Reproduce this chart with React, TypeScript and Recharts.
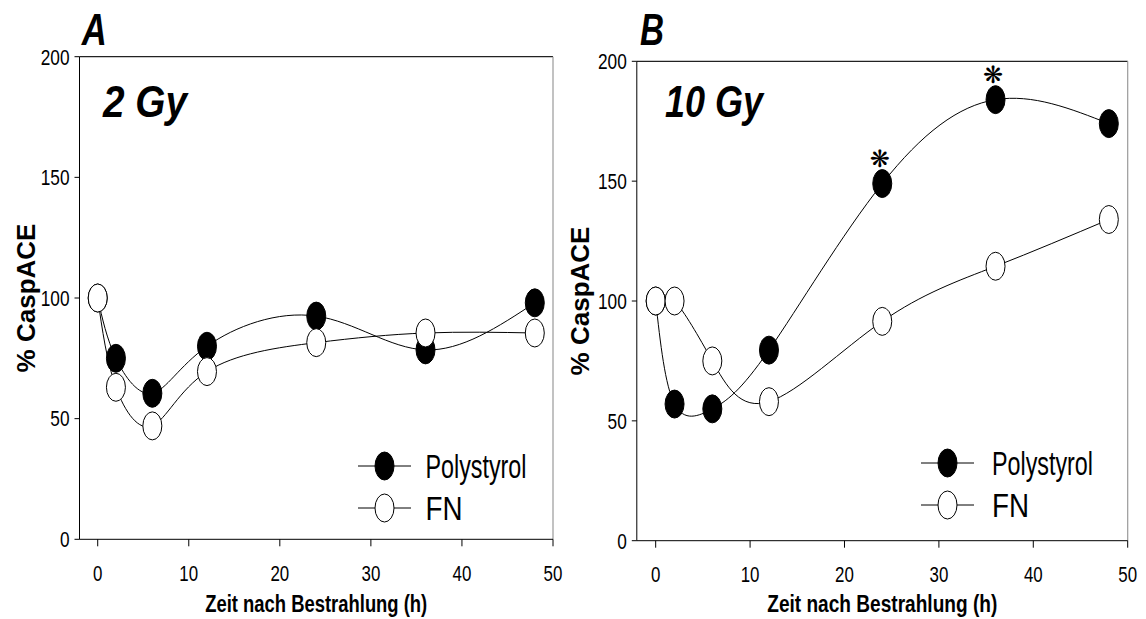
import { LineChart, Line, XAxis, YAxis, ReferenceLine, LabelList, Legend } from 'recharts';

const hours = [0, 2, 6, 12, 24, 36, 48];
const polyA = [100, 75, 60.5, 80, 92.5, 78.5, 98];
const fnA = [100, 63, 47, 69.5, 81.5, 85.5, 85.5];
const polyB = [100, 57, 55, 79.5, 149, 184, 174];
const fnB = [100, 100, 75, 58, 91.5, 114.5, 134];
const starsB = ['', '', '', '', '*', '*', ''];
const starsA = ['', '', '', '', '', '', ''];
const xTicks = [0, 10, 20, 30, 40, 50];
const yTicks = [0, 50, 100, 150, 200];
const seriesNames = ['Polystyrol', 'FN'];

const FONT = 'Liberation Sans, Arial, sans-serif';

function XTick({ x, y, payload }: any) {
  const s = String(payload.value);
  return (
    <text x={x} y={y + 15.5} textAnchor="middle" fontFamily={FONT} fontSize={22} fill="#000"
      textLength={s.length * 9.4} lengthAdjust="spacingAndGlyphs">
      {s}
    </text>
  );
}

function YTick({ x, y, payload }: any) {
  const s = String(payload.value);
  return (
    <text x={x} y={y + 7.8} textAnchor="end" fontFamily={FONT} fontSize={22} fill="#000"
      textLength={s.length * 9.6} lengthAdjust="spacingAndGlyphs">
      {s}
    </text>
  );
}

const ellipseDot = (fill: string) => (props: any) => {
  const { cx, cy, index } = props;
  if (cx == null || cy == null) return <g key={index} />;
  return <ellipse key={index} cx={cx} cy={cy} rx={9.5} ry={14} fill={fill} stroke="#000" strokeWidth={1} />;
};

function StarLabel(props: any) {
  const { x, y, value } = props;
  if (!value) return null;
  return (
    <text x={x - 2.5} y={y - 17} textAnchor="middle" fontFamily="DejaVu Sans" fontSize={24} fill="#000">
      ❋
    </text>
  );
}

function LegendBox({ textX }: { textX: number }) {
  const rows = [
    { name: seriesNames[0], fill: '#000', cy: 26, base: 38, w: 101 },
    { name: seriesNames[1], fill: '#fff', cy: 68, base: 80, w: 37 },
  ];
  return (
    <svg width={220} height={110} style={{ overflow: 'visible' }}>
      {rows.map((r) => (
        <g key={r.name}>
          <line x1={8} x2={61} y1={r.cy} y2={r.cy} stroke="#000" strokeWidth={1} />
          <ellipse cx={34.5} cy={r.cy} rx={9.5} ry={14} fill={r.fill} stroke="#000" />
          <text x={textX} y={r.base} fontFamily={FONT} fontSize={34} fill="#000"
            textLength={r.w} lengthAdjust="spacingAndGlyphs">
            {r.name}
          </text>
        </g>
      ))}
    </svg>
  );
}

interface PanelProps {
  width: number;
  poly: number[];
  fn: number[];
  stars: string[];
  margin: { top: number; right: number; bottom: number; left: number };
  yLabelX: number;
  xLabelW: number;
  legendPos: { left: number; top: number };
  legendTextX: number;
}

function Panel({ width, poly, fn, stars, margin, yLabelX, xLabelW, legendPos, legendTextX }: PanelProps) {
  const data = hours.map((h, i) => ({ h, poly: poly[i], fn: fn[i], star: stars[i] }));
  return (
    <LineChart width={width} height={619} data={data} margin={margin}>
      <XAxis
        type="number"
        dataKey="h"
        domain={[-2, 50]}
        ticks={xTicks}
        allowDataOverflow
        height={40}
        axisLine={{ stroke: '#000' }}
        tickLine={{ stroke: '#000' }}
        tickSize={7}
        tickMargin={19}
        tick={<XTick />}
        label={{
          content: (p: any) => {
            const vb = p.viewBox;
            return (
              <text x={vb.x + vb.width / 2} y={612} textAnchor="middle" fontFamily={FONT} fontWeight="bold"
                fontSize={23} fill="#000" textLength={xLabelW} lengthAdjust="spacingAndGlyphs">
                Zeit nach Bestrahlung (h)
              </text>
            );
          },
        }}
      />
      <YAxis
        type="number"
        domain={[0, 200]}
        ticks={yTicks}
        width={60}
        axisLine={{ stroke: '#000' }}
        tickLine={{ stroke: '#000' }}
        tickSize={5}
        tickMargin={5}
        tick={<YTick />}
        label={{
          content: (p: any) => {
            const vb = p.viewBox;
            const cy = vb.y + vb.height / 2;
            return (
              <text x={yLabelX} y={cy} transform={`rotate(-90 ${yLabelX} ${cy})`} textAnchor="middle"
                fontFamily={FONT} fontWeight="bold" fontSize={26} fill="#000">
                % CaspACE
              </text>
            );
          },
        }}
      />
      <ReferenceLine y={200} stroke="#222" strokeWidth={1.2} />
      <ReferenceLine x={50} stroke="#999" strokeWidth={1.2} />
      <Legend
        layout="horizontal"
        verticalAlign="middle"
        align="center"
        wrapperStyle={{ left: legendPos.left, top: legendPos.top, width: 220, height: 110 }}
        content={() => <LegendBox textX={legendTextX} />}
      />
      <Line
        type="natural"
        dataKey="poly"
        name={seriesNames[0]}
        stroke="#000"
        strokeWidth={1}
        dot={ellipseDot('#000')}
        activeDot={false}
        isAnimationActive={false}
      >
        <LabelList dataKey="star" content={<StarLabel />} />
      </Line>
      <Line
        type="natural"
        dataKey="fn"
        name={seriesNames[1]}
        stroke="#000"
        strokeWidth={1}
        dot={ellipseDot('#fff')}
        activeDot={false}
        isAnimationActive={false}
      />
    </LineChart>
  );
}

export default function App() {
  return (
    <div style={{ position: 'absolute', left: 0, top: 0, width: 1146, height: 619, background: '#fff', overflow: 'hidden' }}>
      <div style={{ position: 'absolute', left: 0, top: 0 }}>
        <Panel
          width={573}
          poly={polyA}
          fn={fnA}
          stars={starsA}
          margin={{ top: 56.7, right: 20, bottom: 39.7, left: 19.5 }}
          yLabelX={35}
          xLabelW={222}
          legendPos={{ left: 350, top: 440 }}
          legendTextX={75.5}
        />
      </div>
      <div style={{ position: 'absolute', left: 560, top: 0 }}>
        <Panel
          width={586}
          poly={polyB}
          fn={fnB}
          stars={starsB}
          margin={{ top: 61.3, right: 18.3, bottom: 38.3, left: 16.8 }}
          yLabelX={28.5}
          xLabelW={230}
          legendPos={{ left: 353, top: 437 }}
          legendTextX={79}
        />
      </div>
      <svg width={1146} height={619} style={{ position: 'absolute', left: 0, top: 0, pointerEvents: 'none' }}>
        <g fontFamily={FONT} fontWeight="bold" fontStyle="italic" fill="#000">
          <text x={81.7} y={45} fontSize={44} textLength={25} lengthAdjust="spacingAndGlyphs">A</text>
          <text x={103} y={117} fontSize={44} textLength={84} lengthAdjust="spacingAndGlyphs">2 Gy</text>
          <text x={640} y={45} fontSize={44} textLength={24} lengthAdjust="spacingAndGlyphs">B</text>
          <text x={665} y={117} fontSize={44} textLength={98} lengthAdjust="spacingAndGlyphs">10 Gy</text>
        </g>
      </svg>
    </div>
  );
}
